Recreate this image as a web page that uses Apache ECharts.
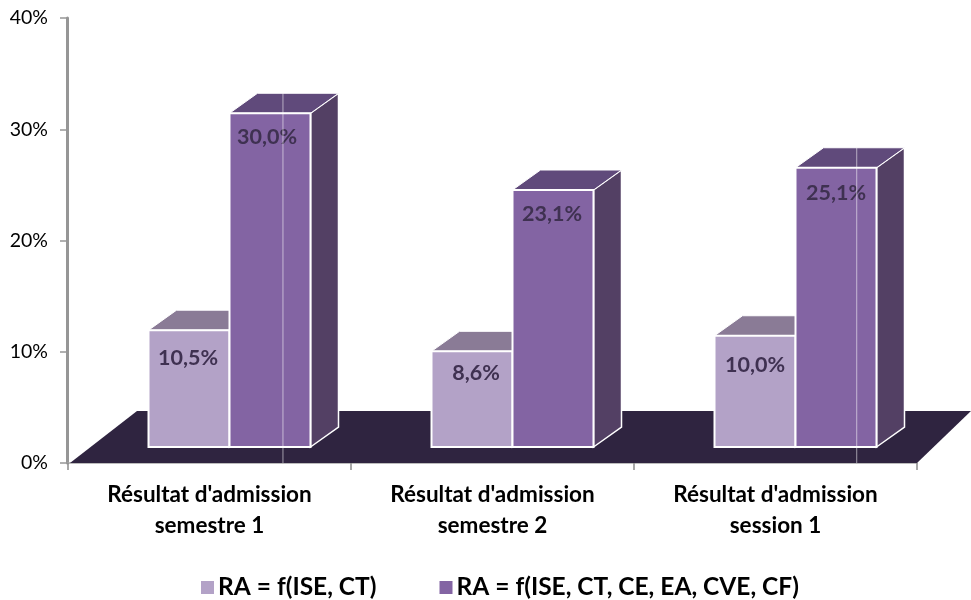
<!DOCTYPE html>
<html><head><meta charset="utf-8">
<style>html,body{margin:0;padding:0;background:#fff}#c{width:971px;height:600px}</style>
<script src="https://cdn.jsdelivr.net/npm/echarts@6/dist/echarts.min.js"></script>
</head><body><div id="c"></div>
<script>
const categories = ["Résultat d'admission\nsemestre 1", "Résultat d'admission\nsemestre 2", "Résultat d'admission\nsession 1"];
const seriesNames = ["RA = f(ISE, CT)", "RA = f(ISE, CT, CE, EA, CVE, CF)"];
const valuesA = [10.5, 8.6, 10.0];
const valuesB = [30.0, 23.1, 25.1];
const yTicks = [0, 10, 20, 30, 40];

const FONT = 'Lato';
const DX = 28, DY = 20, LIFT = 16, SHIFT = 20, BW = 81;
const labelNudgeA = [[-1, 28], [4, 22], [0, 29]];
const labelNudgeB = [[-3, 24], [-1, 24], [0, 25]];
const seams = [[0.2532, 30.0], null, [0.929, 25.1]];

function barItem(colors, side, nudge) {
  return function (params, api) {
    const i = api.value(0), v = api.value(1);
    const base = api.coord([i, 0]), topPt = api.coord([i, v]);
    const cx = base[0] + SHIFT + (side < 0 ? -BW / 2 : BW / 2);
    const x0 = cx - BW / 2, x1 = cx + BW / 2;
    const yb = base[1] - LIFT, yt = topPt[1] - LIFT;
    const children = [
      { type: 'polygon', shape: { points: [[x1, yb], [x1 + DX, yb - DY], [x1 + DX, yt - DY], [x1, yt]] },
        style: { fill: colors.side, stroke: '#fff', lineWidth: 1.5 } },
      { type: 'polygon', shape: { points: [[x0, yt], [x1, yt], [x1 + DX, yt - DY], [x0 + DX, yt - DY]] },
        style: { fill: colors.top, stroke: '#fff', lineWidth: 1 } },
      { type: 'rect', shape: { x: x0, y: yt, width: x1 - x0, height: yb - yt },
        style: { fill: colors.front, stroke: '#fff', lineWidth: 2 } },
      { type: 'text', style: { text: v.toFixed(1).replace('.', ',') + '%',
          x: cx + nudge[i][0], y: yt + nudge[i][1], align: 'center', verticalAlign: 'middle',
          fontFamily: FONT, fontWeight: 'bold', fontSize: 21.5, fill: '#3f3151' } }
    ];
    return { type: 'group', children };
  };
}
function floorItem(params, api) {
  const c = params.coordSys, yb = c.y + c.height;
  return { type: 'polygon', shape: { points: [[c.x + 2, yb], [c.x + c.width, yb], [c.x + c.width + 54, yb - 52], [c.x + 69, yb - 52]] },
    style: { fill: '#2f2440' } };
}
function seamItem(params, api) {
  const s = seams[params.dataIndex];
  if (!s) return null;
  const c = params.coordSys;
  const x = c.x + s[0] * c.width, yTop = api.coord([0, s[1]])[1] - LIFT - DY;
  return { type: 'line', shape: { x1: x, y1: yTop, x2: x, y2: c.y + c.height },
    style: { stroke: 'rgba(255,255,255,0.55)', lineWidth: 1 } };
}
const chart = echarts.init(document.getElementById('c'), null, { renderer: 'canvas' });
const pairs = a => a.map((v, i) => [i, v]);
chart.setOption({
  animation: false,
  backgroundColor: '#fff',
  textStyle: { fontFamily: FONT },
  grid: { left: 68, right: 54, top: 18, bottom: 137, containLabel: false },
  legend: {
    data: seriesNames, left: 196, top: 570, icon: 'rect', itemWidth: 13, itemHeight: 13,
    itemGap: 63, selectedMode: false,
    textStyle: { fontFamily: FONT, fontWeight: 'bold', fontSize: 24.5, color: '#000', padding: [0, 0, 0, -1] }
  },
  xAxis: {
    type: 'category', data: categories, boundaryGap: true,
    axisLine: { show: true, lineStyle: { color: '#a6a6a6', width: 1.5 } },
    axisTick: { show: true, alignWithLabel: false, length: 7, lineStyle: { color: '#8c8c8c', width: 1.5 } },
    axisLabel: { interval: 0, margin: 16, color: '#000', fontFamily: FONT, fontWeight: 'bold', fontSize: 22.5, lineHeight: 31 }
  },
  yAxis: {
    type: 'value', min: yTicks[0], max: yTicks[yTicks.length - 1], interval: 10, offset: 1,
    splitLine: { show: false },
    axisLine: { show: true, onZero: false, lineStyle: { color: '#969696', width: 3 } },
    axisTick: { show: true, length: 7, lineStyle: { color: '#969696', width: 1.5 } },
    axisLabel: { formatter: '{value}%', margin: 19, padding: [3, 0, 0, 0], color: '#000', fontFamily: FONT, fontSize: 19.5 }
  },
  series: [
    { type: 'custom', name: '_floor', coordinateSystem: 'cartesian2d', data: [[0, 0]], renderItem: floorItem, clip: false, silent: true, z: 1 },
    { type: 'custom', name: seriesNames[0], coordinateSystem: 'cartesian2d', data: pairs(valuesA), encode: { x: 0, y: 1 },
      renderItem: barItem({ front: '#b3a2c7', side: '#7d6b93', top: '#8a7b96' }, -1, labelNudgeA), itemStyle: { color: '#b3a2c7' }, clip: false, z: 2 },
    { type: 'custom', name: seriesNames[1], coordinateSystem: 'cartesian2d', data: pairs(valuesB), encode: { x: 0, y: 1 },
      renderItem: barItem({ front: '#8364a3', side: '#534064', top: '#604a7b' }, 1, labelNudgeB), itemStyle: { color: '#8364a3' }, clip: false, z: 3 },
    { type: 'custom', name: '_seams', coordinateSystem: 'cartesian2d', data: [[0, 0], [1, 0], [2, 0]], renderItem: seamItem, clip: false, silent: true, z: 4 }
  ]
});
</script></body></html>
